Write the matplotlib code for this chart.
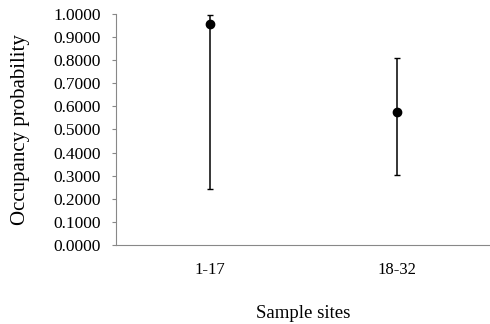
import numpy as np
import matplotlib.pyplot as plt

plt.rcParams['font.family'] = ['Liberation Serif', 'DejaVu Serif']

sites = ['1-17', '18-32']
occupancy = [0.957, 0.576]
upper_ci = [0.996, 0.810]
lower_ci = [0.242, 0.303]

fig = plt.figure(figsize=(4.9, 3.24), dpi=100)
ax = fig.add_axes([0.237, 0.244, 0.763, 0.713])

x = np.arange(len(sites)) + 0.5
occ = np.array(occupancy)
yerr = [occ - np.array(lower_ci), np.array(upper_ci) - occ]
ax.errorbar(x, occ, yerr=yerr, fmt='o', color='black', ms=6,
            elinewidth=1.1, capsize=2.5, capthick=1)

ax.set_xlim(0, 2)
ax.set_ylim(0, 1.0)
ax.set_yticks(np.arange(0, 1.01, 0.1))
ax.set_yticklabels(['%.4f' % v for v in np.arange(0, 1.01, 0.1)], fontsize=12.5)
ax.set_xticks(x)
ax.set_xticklabels(sites, fontsize=12)
ax.tick_params(axis='x', length=0, pad=12)
ax.tick_params(axis='y', length=3, width=0.8, color='#888888', pad=8)

for s in ['top', 'right']:
    ax.spines[s].set_visible(False)
ax.spines['left'].set_color('#888888')
ax.spines['bottom'].set_color('#888888')

ax.set_xlabel('Sample sites', fontsize=13.5, labelpad=20)
ax.set_ylabel('Occupancy probability', fontsize=15, labelpad=17)

fig.savefig('out.png', dpi=100)
